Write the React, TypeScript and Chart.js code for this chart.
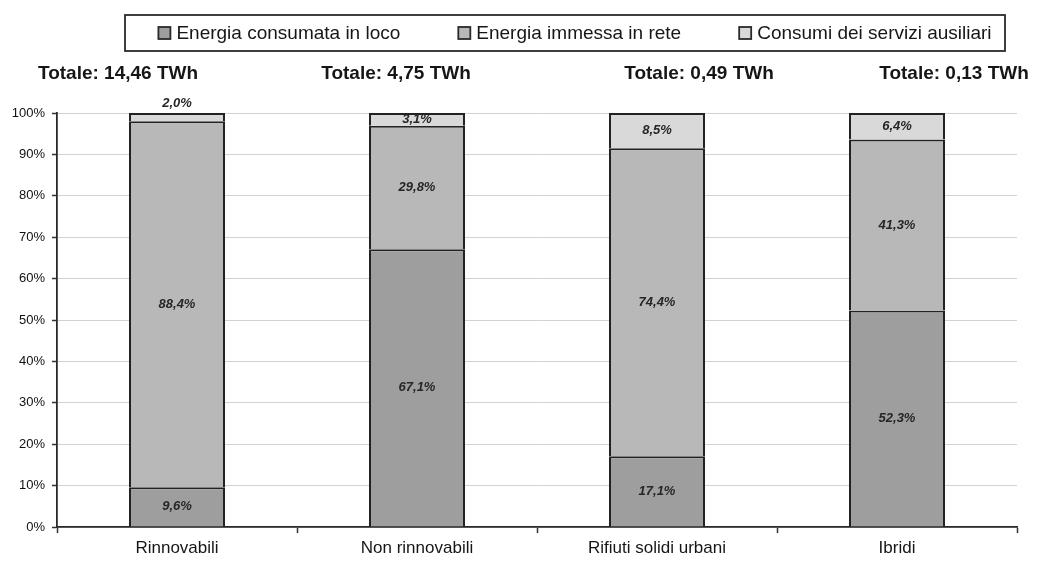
import React, { useEffect, useRef } from "react";
import { Chart, registerables } from "chart.js";

Chart.register(...registerables);

// Data: share of generated energy by use (%), per plant type
const categories = ["Rinnovabili", "Non rinnovabili", "Rifiuti solidi urbani", "Ibridi"];
const seriesLabels = [
  "Energia consumata in loco",
  "Energia immessa in rete",
  "Consumi dei servizi ausiliari",
];
const consumataInLoco = [9.6, 67.1, 17.1, 52.3];
const immessaInRete = [88.4, 29.8, 74.4, 41.3];
const serviziAusiliari = [2.0, 3.1, 8.5, 6.4];
const totaliTWh = ["14,46", "4,75", "0,49", "0,13"];
const yTickValues = [0, 10, 20, 30, 40, 50, 60, 70, 80, 90, 100];

// Styling
const FONT = "'Liberation Sans', Arial, Helvetica, sans-serif";
const TEXT = "#161616";
const EDGE = "#222";
const seriesColors = ["#9e9e9e", "#b8b8b8", "#d9d9d9"];
// horizontal nudge of each "Totale" heading relative to its category centre
const totalLabelShift = [-59, -21, 42, 57];

const fmtPct = (v: number) => v.toFixed(1).replace(".", ",") + "%";

const overlayPlugin = {
  id: "overlay",
  afterDatasetsDraw(chart: any) {
    const ctx: CanvasRenderingContext2D = chart.ctx;
    ctx.save();
    ctx.font = `italic bold 13px ${FONT}`;
    ctx.fillStyle = "#262626";
    ctx.textAlign = "center";
    ctx.textBaseline = "middle";
    chart.data.datasets.forEach((ds: any, di: number) => {
      const meta = chart.getDatasetMeta(di);
      meta.data.forEach((bar: any, i: number) => {
        const v = ds.data[i] as number;
        const top = Math.min(bar.y, bar.base);
        const bottom = Math.max(bar.y, bar.base);
        const h = bottom - top;
        const y = h < 11 ? top - 10 : (top + bottom) / 2;
        ctx.fillText(fmtPct(v), bar.x, y);
      });
    });
    ctx.restore();
  },
  afterDraw(chart: any) {
    const ctx: CanvasRenderingContext2D = chart.ctx;
    const area = chart.chartArea;
    const xScale = chart.scales.x;
    ctx.save();

    // "Totale" headings above each column
    ctx.font = `bold 19px ${FONT}`;
    ctx.fillStyle = TEXT;
    ctx.textAlign = "center";
    ctx.textBaseline = "middle";
    totaliTWh.forEach((t, i) => {
      const x = xScale.getPixelForValue(i) + totalLabelShift[i];
      ctx.fillText(`Totale: ${t} TWh`, x, area.top - 39);
    });

    // framed legend at the top
    const boxL = 125, boxR = 1005, boxT = 15, boxB = 51;
    ctx.lineWidth = 1.8;
    ctx.strokeStyle = "#2a2a2a";
    ctx.strokeRect(boxL, boxT, boxR - boxL, boxB - boxT);

    ctx.font = `19px ${FONT}`;
    ctx.textAlign = "left";
    const marker = 12;
    const markerGap = 6;
    const itemGap = 58;
    const widths = chart.data.datasets.map((d: any) => ctx.measureText(d.label).width);
    const total =
      widths.reduce((a: number, b: number) => a + b, 0) +
      widths.length * (marker + markerGap) +
      (widths.length - 1) * itemGap;
    let x = 575 - total / 2;
    const cy = (boxT + boxB) / 2;
    chart.data.datasets.forEach((d: any, i: number) => {
      ctx.fillStyle = d.backgroundColor;
      ctx.fillRect(x, cy - marker / 2, marker, marker);
      ctx.lineWidth = 1.8;
      ctx.strokeStyle = "#2a2a2a";
      ctx.strokeRect(x, cy - marker / 2, marker, marker);
      ctx.fillStyle = TEXT;
      ctx.fillText(d.label, x + marker + markerGap, cy + 1);
      x += marker + markerGap + widths[i] + itemGap;
    });
    ctx.restore();
  },
};

export default function App() {
  const canvasRef = useRef<HTMLCanvasElement | null>(null);

  useEffect(() => {
    if (!canvasRef.current) return;
    const seriesData = [consumataInLoco, immessaInRete, serviziAusiliari];
    const chart = new Chart(canvasRef.current, {
      type: "bar",
      data: {
        labels: categories,
        datasets: seriesLabels.map((label, i) => ({
          label,
          data: seriesData[i],
          backgroundColor: seriesColors[i],
          borderColor: EDGE,
          // single divider between stacked segments: each segment draws its top edge only
          borderWidth: { top: 2, left: 2, right: 2, bottom: 0 },
          borderSkipped: false,
          barPercentage: 0.4,
          categoryPercentage: 1,
        })),
      },
      options: {
        animation: false,
        responsive: true,
        maintainAspectRatio: false,
        layout: { padding: { top: 113, right: 22, bottom: 0, left: 0 } },
        plugins: {
          legend: { display: false },
          tooltip: { enabled: false },
        },
        scales: {
          x: {
            stacked: true,
            offset: true,
            grid: {
              offset: true,
              drawOnChartArea: false,
              drawTicks: true,
              tickLength: 6,
              tickColor: "#333",
              tickWidth: 1.5,
            },
            border: { color: "#2a2a2a", width: 1.8 },
            ticks: {
              font: { family: FONT, size: 17 },
              color: TEXT,
              padding: 5,
              maxRotation: 0,
              autoSkip: false,
            },
            afterFit: (scale: any) => {
              scale.height = 37;
            },
          },
          y: {
            stacked: true,
            min: 0,
            max: 100,
            afterBuildTicks: (scale: any) => {
              scale.ticks = yTickValues.map((v) => ({ value: v }));
            },
            grid: {
              color: "#d2d2d2",
              lineWidth: 1,
              tickColor: "#333",
              tickLength: 5,
              tickWidth: 1.5,
            },
            border: { color: "#2a2a2a", width: 1.8 },
            ticks: {
              font: { family: FONT, size: 13 },
              color: "#111",
              padding: 7,
              callback: (v: any) => `${v}%`,
            },
            afterFit: (scale: any) => {
              scale.width = 57;
            },
          },
        },
      },
      plugins: [overlayPlugin],
    });
    return () => chart.destroy();
  }, []);

  return (
    <div
      style={{
        position: "absolute",
        left: 0,
        top: 0,
        width: 1039,
        height: 564,
        background: "#fff",
      }}
    >
      <canvas ref={canvasRef} />
    </div>
  );
}
